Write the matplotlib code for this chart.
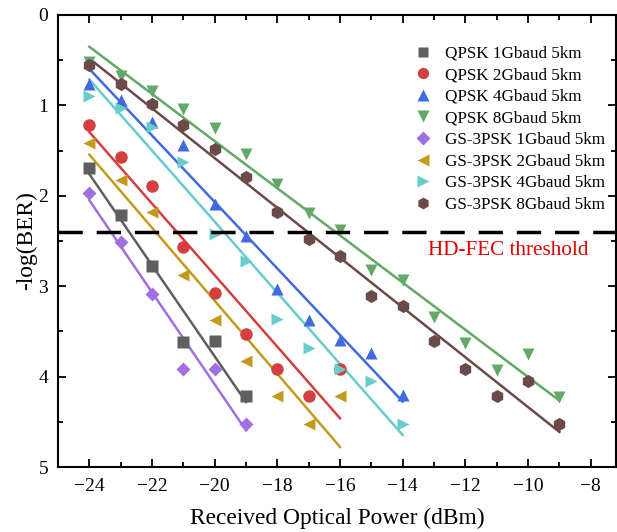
import numpy as np
import matplotlib
matplotlib.use("Agg")
import matplotlib.pyplot as plt
from matplotlib.ticker import MultipleLocator

plt.rcParams['font.family'] = ['Liberation Serif', 'DejaVu Serif']
plt.rcParams['mathtext.fontset'] = 'stix'

labels = ["QPSK 1Gbaud 5km", "QPSK 2Gbaud 5km", "QPSK 4Gbaud 5km", "QPSK 8Gbaud 5km",
          "GS-3PSK 1Gbaud 5km", "GS-3PSK 2Gbaud 5km", "GS-3PSK 4Gbaud 5km", "GS-3PSK 8Gbaud 5km"]
colors = ["#5f5f5f", "#d43f3f", "#4169e1", "#62a866",
          "#a070e0", "#c49a1e", "#66cccc", "#6b4a4a"]
markers = ["s", "o", "^", "v", "D", "<", ">", "h"]

x_q1 = [-24, -23, -22, -21, -20, -19]
y_q1 = [1.69, 2.21, 2.78, 3.62, 3.61, 4.21]
x_q2 = [-24, -23, -22, -21, -20, -19, -18, -17, -16]
y_q2 = [1.22, 1.57, 1.89, 2.57, 3.07, 3.53, 3.92, 4.21, 3.92]
x_q4 = [-24, -23, -22, -21, -20, -19, -18, -17, -16, -15, -14]
y_q4 = [0.76, 0.94, 1.18, 1.44, 2.09, 2.45, 3.03, 3.37, 3.60, 3.74, 4.20]
x_q8 = [-24, -23, -22, -21, -20, -19, -18, -17, -16, -15, -14, -13, -12, -11, -10, -9]
y_q8 = [0.52, 0.68, 0.84, 1.04, 1.25, 1.54, 1.87, 2.19, 2.38, 2.82, 2.93, 3.34, 3.63, 3.93, 3.75, 4.22]
x_g1 = [-24, -23, -22, -21, -20, -19]
y_g1 = [1.97, 2.51, 3.09, 3.92, 3.92, 4.52]
x_g2 = [-24, -23, -22, -21, -20, -19, -18, -17, -16]
y_g2 = [1.42, 1.83, 2.18, 2.88, 3.37, 3.83, 4.21, 4.52, 4.21]
x_g4 = [-24, -23, -22, -21, -20, -19, -18, -17, -16, -15, -14]
y_g4 = [0.90, 1.03, 1.24, 1.63, 2.42, 2.72, 3.36, 3.68, 3.92, 4.05, 4.52]
x_g8 = [-24, -23, -22, -21, -20, -19, -18, -17, -16, -15, -14, -13, -12, -11, -10, -9]
y_g8 = [0.55, 0.76, 0.98, 1.22, 1.48, 1.79, 2.18, 2.48, 2.67, 3.11, 3.22, 3.61, 3.92, 4.21, 4.05, 4.52]

xs = [x_q1, x_q2, x_q4, x_q8, x_g1, x_g2, x_g4, x_g8]
ys = [y_q1, y_q2, y_q4, y_q8, y_g1, y_g2, y_g4, y_g8]

hd_fec = 2.40

fig = plt.figure(figsize=(6.17, 5.32), dpi=100)
ax = fig.add_axes([0.094, 0.122, 0.904, 0.85])

msize = {"s": 8, "o": 9, "^": 9, "v": 9, "D": 7.5, "<": 9, ">": 9, "h": 9.5}
for x, y, c, m, lab in zip(xs, ys, colors, markers, labels):
    x = np.array(x, float)
    y = np.array(y, float)
    p = np.polyfit(x, y, 1)
    xf = np.array([x.min(), x.max()])
    ax.plot(xf, np.polyval(p, xf), color=c, lw=1.8, zorder=2)
    ax.plot(x, y, linestyle='none', marker=m, color=c, ms=msize[m], mec='none', label=lab, zorder=3)

ax.axhline(hd_fec, color='black', lw=2.5, dashes=(7, 4), zorder=4)
ax.text(-13.2, hd_fec + 0.2, "HD-FEC threshold", color='#e00000', fontsize=15.2, va='center', ha='left')

ax.set_xlim(-25, -7.2)
ax.set_ylim(5, 0)
ax.xaxis.set_major_locator(MultipleLocator(2))
ax.xaxis.set_minor_locator(MultipleLocator(1))
ax.yaxis.set_major_locator(MultipleLocator(1))
ax.yaxis.set_minor_locator(MultipleLocator(0.5))
ax.tick_params(which='both', direction='in', top=True, right=True, labelsize=14, width=1.3)
ax.tick_params(axis='x', which='major', pad=8)
ax.tick_params(axis='y', which='major', pad=7)
ax.tick_params(which='major', length=6)
ax.tick_params(which='minor', length=3.5)
for s in ax.spines.values():
    s.set_linewidth(1.5)

ax.set_xlabel("Received Optical Power (dBm)", fontsize=16.8, labelpad=9)
ax.set_ylabel("-log(BER)", fontsize=16.8, labelpad=1)

ax.legend(loc='upper right', frameon=False, fontsize=12.3, handletextpad=0.3,
          labelspacing=0.33, bbox_to_anchor=(0.999, 0.955), borderaxespad=0.2, markerscale=0.9)

fig.savefig("out.png", dpi=100)
